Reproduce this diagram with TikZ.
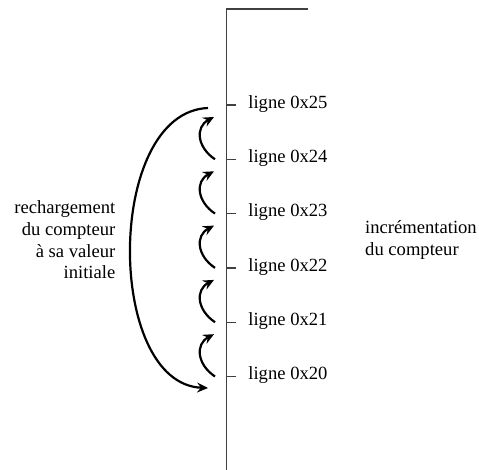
\documentclass[tikz,border=0pt]{standalone}
\usepackage{fontspec}
\setmainfont{Liberation Serif}
\newfontfamily\lserif{Liberation Serif}
\usetikzlibrary{arrows.meta,calc}
\begin{document}
\begin{tikzpicture}[x=1pt,y=-1pt,
  axisline/.style={draw=black!75,line width=1.4pt},
  ticksty/.style={draw=black!75,line width=1.4pt},
  arr/.style={draw=black,line width=2.2pt,-{Stealth[length=11pt,width=10pt,inset=4pt]}},
  lbl/.style={font=\lserif\fontsize{18.6pt}{21.7pt}\selectfont,inner sep=0pt}]
\useasboundingbox (0,0) rectangle (479,470);
% axis
\coordinate (axtop) at (308,9);
\coordinate (axcorner) at (226.7,9);
\coordinate (axbottom) at (226.7,472);
\draw[axisline] (axtop) -- (axcorner) -- (axbottom);
% ticks and labels
\foreach \k/\name in {0/25,1/24,2/23,3/22,4/21,5/20}{
  \pgfmathsetmacro{\yy}{105+54.3*\k}
  \coordinate (t\name) at (226.7,\yy);
  \draw[ticksty] (t\name) -- ++(9.3,0);
  \node[lbl,anchor=base west] (l\name) at ($(t\name)+(21.5,3.3)$) {ligne 0x\name};
}
% small arrows
\foreach \lo/\hi in {20/21,21/22,22/23,23/24,24/25}{
  \coordinate (s\lo) at ($(t\lo)+(-11.7,0)$);
  \coordinate (e\lo) at ($(t\hi)+(-12.7,12)$);
  \draw[arr] (s\lo) .. controls ($(s\lo)+(-18,-12)$) and ($(e\lo)+(-19,10)$) .. (e\lo);
}
% big arrow
\coordinate (bs) at ($(t25)+(-18.7,3)$);
\coordinate (be) at ($(t20)+(-18.7,11.5)$);
\draw[arr] (bs) .. controls (105,112) and (105,384) .. (be);
% texts
\node[lbl,align=right,anchor=north east] (reload) at (115.5,200.5)
  {rechargement\\du compteur\\à sa valeur\\initiale};
\node[lbl,align=left,anchor=north west] (incr) at (365,220.2)
  {incrémentation\\du compteur};
\end{tikzpicture}
\end{document}
